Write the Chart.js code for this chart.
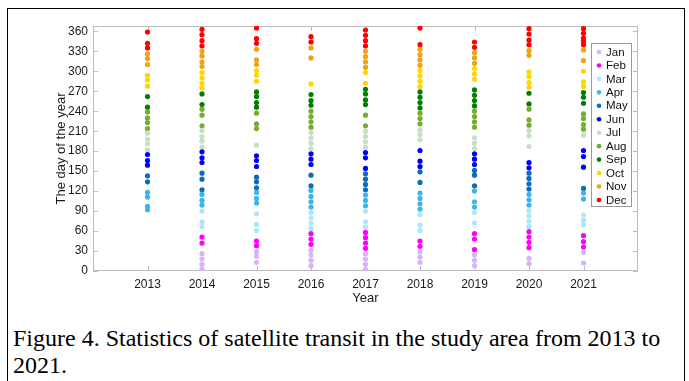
<!DOCTYPE html>
<html>
<head>
<meta charset="utf-8">
<script src="https://cdn.jsdelivr.net/npm/chart.js@4.4.1/dist/chart.umd.min.js"></script>
<style>
html, body { margin: 0; padding: 0; background: #fff; }
body { width: 689px; height: 381px; position: relative; overflow: hidden; }
#frame { position: absolute; left: 7px; top: 8px; width: 678px; height: 400px; border: 1px solid #000; box-sizing: border-box; }
#wrap { position: absolute; left: 0; top: 0; width: 689px; height: 320px; }
#caption { position: absolute; left: 13px; top: 325px; width: 670px; font-family: "Liberation Serif", "Times New Roman", serif; font-size: 24px; line-height: 27px; color: #000; white-space: nowrap; }
</style>
</head>
<body>
<div id="frame"></div>
<div id="wrap"><canvas id="myChart"></canvas></div>
<div id="caption">Figure 4. Statistics of satellite transit in the study area from 2013 to<br>2021.</div>
<script>
// years on the x axis
const years = [2013, 2014, 2015, 2016, 2017, 2018, 2019, 2020, 2021]
const monthNames = ['Jan', 'Feb', 'Mar', 'Apr', 'May', 'Jun', 'Jul', 'Aug', 'Sep', 'Oct', 'Nov', 'Dec']
const monthColors = ['#d9b3f7', '#ff00ff', '#aee6fb', '#3db5ea', '#0b6cbc', '#0000ff',
                     '#c6dfc6', '#77ac30', '#008000', '#ffd700', '#eea512', '#ff0000']
const yTicks = [0, 30, 60, 90, 120, 150, 180, 210, 240, 270, 300, 330, 360]

// day of year of each transit, one list per year
const days2013 = [359, 342, 335, 326, 319, 310, 294, 287, 278, 262, 246, 239, 230, 223, 214, 207, 198, 191, 182, 175, 166, 159, 143, 134, 118, 111, 97, 92]
const days2014 = [363, 355, 346, 338, 330, 323, 314, 307, 298, 290, 282, 275, 266, 250, 243, 234, 218, 211, 202, 195, 186, 179, 170, 163, 147, 138, 122, 115, 106, 99, 90, 74, 67, 51, 42, 26, 18, 10, 3]
const days2015 = [365, 349, 342, 333, 317, 310, 301, 294, 285, 269, 262, 253, 246, 237, 221, 214, 189, 173, 166, 157, 141, 134, 125, 118, 109, 102, 86, 70, 61, 45, 38, 29, 22, 13]
const days2016 = [352, 344, 335, 320, 281, 265, 256, 249, 240, 232, 224, 216, 208, 200, 192, 184, 176, 168, 160, 144, 128, 121, 112, 104, 96, 88, 80, 72, 64, 56, 48, 40, 31, 24, 16, 8]
const days2017 = [362, 354, 346, 338, 330, 322, 314, 306, 298, 282, 273, 266, 257, 250, 234, 218, 210, 202, 194, 186, 178, 170, 154, 146, 138, 130, 122, 114, 106, 98, 90, 74, 66, 58, 50, 42, 34, 26, 18, 10, 2]
const days2018 = [365, 340, 333, 325, 317, 309, 301, 293, 285, 277, 269, 261, 253, 245, 237, 229, 221, 212, 205, 197, 181, 165, 157, 149, 133, 117, 109, 101, 93, 85, 69, 61, 45, 37, 29, 21, 13]
const days2019 = [344, 336, 328, 320, 312, 304, 296, 288, 272, 264, 256, 248, 240, 232, 224, 216, 200, 192, 184, 176, 168, 160, 151, 144, 128, 120, 104, 96, 88, 72, 56, 48, 32, 24, 16, 8]
const days2020 = [364, 356, 347, 340, 331, 324, 299, 292, 283, 276, 267, 251, 243, 227, 219, 211, 203, 187, 163, 155, 147, 139, 131, 123, 115, 107, 99, 91, 83, 75, 67, 59, 51, 43, 35, 19, 11]
const days2021 = [364, 357, 350, 345, 340, 332, 316, 300, 284, 277, 268, 261, 252, 236, 229, 220, 213, 204, 181, 172, 156, 124, 117, 108, 84, 76, 69, 53, 44, 36, 28, 12]

const daysByYear = [days2013, days2014, days2015, days2016, days2017, days2018, days2019, days2020, days2021]

// month of a day-of-year (handles leap years)
function monthOf(year, day) {
	return new Date(year, 0, day).getMonth()
}

const datasets = monthNames.map((m, i) => ({
	label: m,
	data: [],
	backgroundColor: monthColors[i],
	borderWidth: 0,
	pointRadius: 2.6,
	pointHoverRadius: 2.6
}))
years.forEach((yr, k) => {
	daysByYear[k].forEach(d => {
		datasets[monthOf(yr, d)].data.push({ x: yr, y: d })
	})
})

const FONT = '"Liberation Sans", Arial, sans-serif'

const boxPlugin = {
	id: 'box',
	beforeDatasetsDraw(chart) {
		const { ctx, chartArea: a, scales } = chart
		ctx.save()
		ctx.strokeStyle = '#bdbdbd'
		ctx.lineWidth = 1
		ctx.strokeRect(a.left + 0.5, a.top + 0.5, a.width - 1, a.height - 1)
		ctx.beginPath()
		scales.x.ticks.forEach(t => {
			const px = Math.round(scales.x.getPixelForValue(t.value)) + 0.5
			ctx.moveTo(px, a.bottom); ctx.lineTo(px, a.bottom - 5)
			ctx.moveTo(px, a.top); ctx.lineTo(px, a.top + 5)
		})
		scales.y.ticks.forEach(t => {
			const py = Math.round(scales.y.getPixelForValue(t.value)) + 0.5
			ctx.moveTo(a.left, py); ctx.lineTo(a.left + 5, py)
			ctx.moveTo(a.right, py); ctx.lineTo(a.right - 5, py)
		})
		ctx.stroke()
		ctx.restore()
	},
	afterDraw(chart) {
		// legend box inside the plot, top right
		const { ctx, chartArea: a } = chart
		const lx = a.right - 47, ly = a.top + 17, lw = 40, lh = 163, step = 13.45
		ctx.save()
		ctx.fillStyle = '#fff'
		ctx.fillRect(lx, ly, lw, lh)
		ctx.strokeStyle = '#9a9a9a'
		ctx.lineWidth = 1
		ctx.strokeRect(lx + 0.5, ly + 0.5, lw, lh)
		ctx.font = '11.5px ' + FONT
		ctx.textBaseline = 'middle'
		monthNames.forEach((m, i) => {
			const cy = ly + 9 + i * step
			ctx.fillStyle = monthColors[i]
			ctx.beginPath()
			ctx.arc(lx + 8, cy, 2.3, 0, Math.PI * 2)
			ctx.fill()
			ctx.fillStyle = '#111'
			ctx.fillText(m, lx + 15, cy + 0.5)
		})
		ctx.restore()
	}
}

const ctx = document.getElementById('myChart').getContext('2d')
const myChart = new Chart(ctx, {
	type: 'scatter',
	data: { datasets: datasets },
	options: {
		responsive: true,
		maintainAspectRatio: false,
		animation: false,
		layout: { padding: { left: 0, top: 26, right: 51, bottom: 14 } },
		plugins: { legend: { display: false }, tooltip: { enabled: false } },
		scales: {
			x: {
				type: 'linear',
				min: 2012,
				max: 2022,
				afterBuildTicks: s => { s.ticks = years.map(v => ({ value: v })) },
				afterFit: s => { s.height = 35 },
				grid: { display: false, drawTicks: false },
				border: { display: false },
				ticks: {
					padding: 6,
					color: '#1a1a1a',
					font: { family: FONT, size: 12 },
					maxRotation: 0,
					callback: v => String(v)
				},
				title: {
					display: true,
					text: 'Year',
					color: '#1a1a1a',
					font: { family: FONT, size: 13 },
					padding: { top: 0, bottom: 0 }
				}
			},
			y: {
				min: 0,
				max: 368,
				afterBuildTicks: s => { s.ticks = yTicks.map(v => ({ value: v })) },
				afterFit: s => { s.width = 93 },
				grid: { display: false, drawTicks: false },
				border: { display: false },
				ticks: {
					padding: 5,
					color: '#1a1a1a',
					font: { family: FONT, size: 12 }
				},
				title: {
					display: true,
					text: 'The day of the year',
					color: '#1a1a1a',
					font: { family: FONT, size: 13 },
					padding: { top: 54, bottom: 0 }
				}
			}
		}
	},
	plugins: [boxPlugin]
})
</script>
</body>
</html>
